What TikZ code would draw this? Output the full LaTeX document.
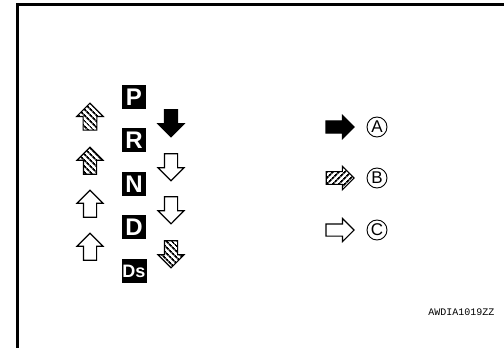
\documentclass[tikz,border=0pt]{standalone}
\usepackage{fontspec}
\setmainfont{Liberation Sans}
\newfontfamily\codefont{Liberation Mono}
\usetikzlibrary{shapes.arrows, patterns.meta}
\tikzset{
selbox/.style={
       rectangle,
       fill=black,
       text=white,
       font=\bfseries\fontsize{24}{24}\selectfont,
       minimum width=24pt,
       minimum height=24pt,
       inner sep=0pt,
       },
arr/.style={
       single arrow,
       draw=black,
       line width=1.1pt,
       minimum height=27pt,
       single arrow head extend=6.5pt,
       inner sep=6pt,
       },
hatch/.style={pattern={Lines[angle=45, distance=4pt, line width=1.8pt]}},
hatchv/.style={pattern={Lines[angle=-45, distance=4pt, line width=1.8pt]}},
filled/.style={fill=black},
hollow/.style={fill=white},
uparr/.style={arr, rotate=90},
downarr/.style={arr, rotate=-90},
rightarr/.style={arr, minimum height=28pt, inner sep=5.5pt, single arrow head extend=5.5pt},
letter/.style={circle, draw=black, line width=0.9pt, minimum size=20pt,
       inner sep=0pt, font=\fontsize{17}{17}\selectfont},
}

\begin{document}
\begin{tikzpicture}[x=1pt, y=-1pt]
    \useasboundingbox (0,0) rectangle (504,348);
    % frame
    \draw[line width=3pt] (17.5,348) -- (17.5,4.5) -- (504,4.5);

    % selector positions
    \foreach \n/\y/\l in {p/97/P, r/140/R, n/184/N, d/227/D}
        \node [selbox] (\n) at (134,\y) {\l};
    \node [selbox, minimum width=25pt, font=\bfseries\fontsize{18}{18}\selectfont] (ds) at (134,271) {Ds};

    % arrows between positions
    \foreach \n/\y/\s in {
        upa/120/hatchv,
        upb/164/hatchv,
        upc/207/hollow,
        upd/250/hollow} {
        \node [uparr, \s] (\n) at (90,\y) {};
    }
    \foreach \n/\y/\s in {
        dna/120/filled,
        dnb/164/hollow,
        dnc/207/hollow,
        dnd/251/hatchv} {
        \node [downarr, \s] (\n) at (171,\y) {};
    }

    % legend
    \foreach \n/\y/\s/\l in {
        a/127/filled/A,
        b/178/hatch/B,
        c/230/hollow/C} {
        \node [rightarr, \s] (ar\n) at (337,\y) {};
        \node [letter] (m\n) at (377,\y) {\l};
    }

    \node [anchor=base east, font=\codefont\fontsize{10}{10}\selectfont] (code) at (498,315) {AWDIA1019ZZ};
\end{tikzpicture}
\end{document}
